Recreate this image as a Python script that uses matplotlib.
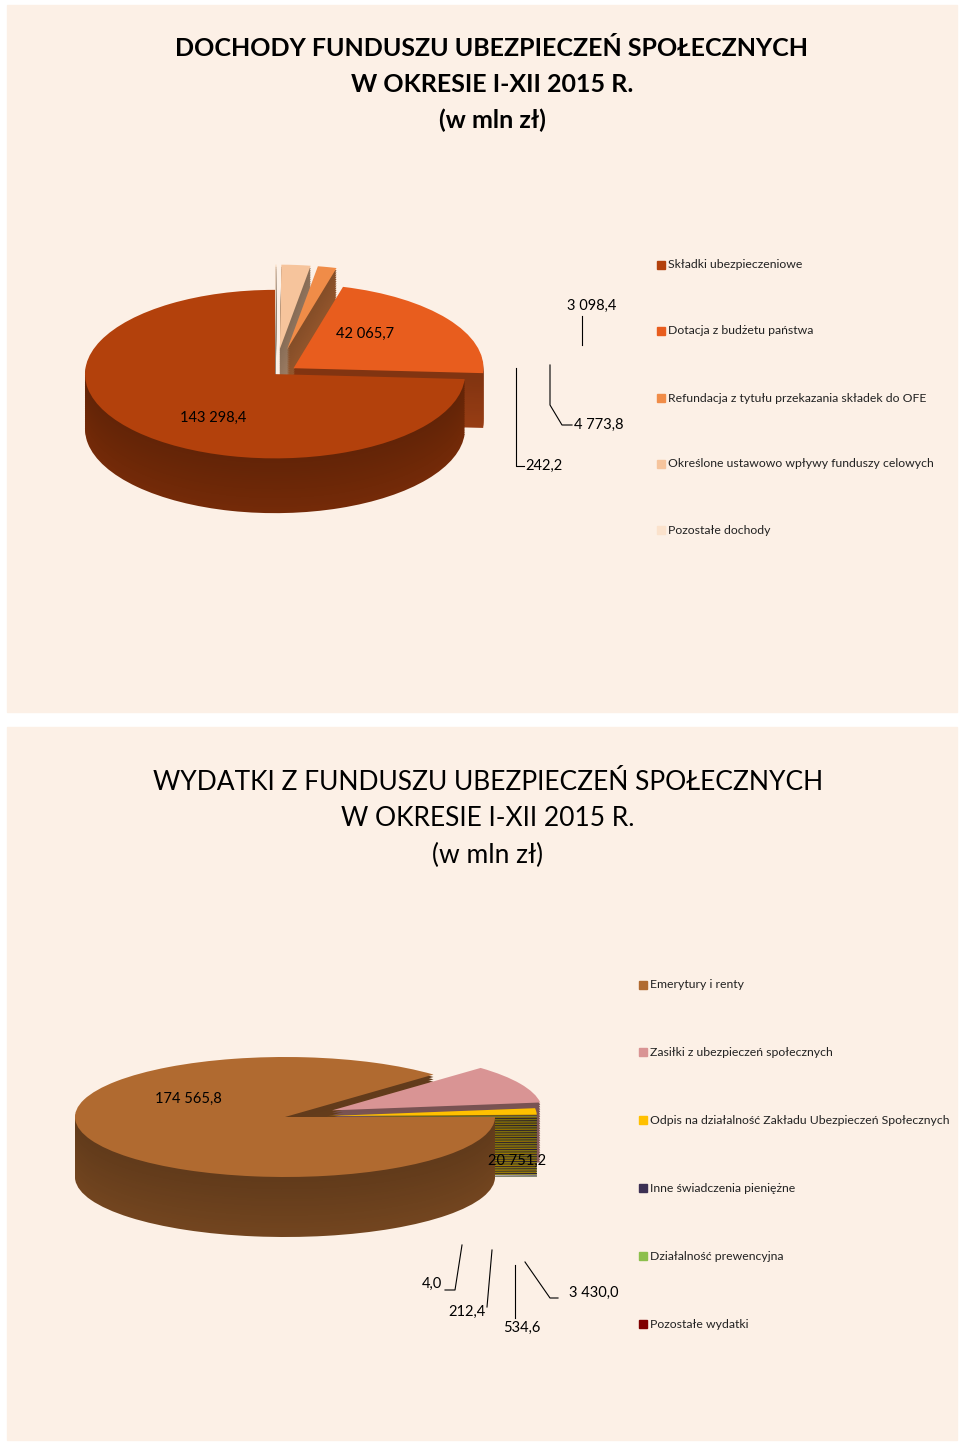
import numpy as np
import matplotlib
matplotlib.use("Agg")
import matplotlib.pyplot as plt
from matplotlib.colors import to_rgb
from matplotlib.patches import Rectangle
from matplotlib.lines import Line2D

plt.rcParams["font.family"] = "Lato"

# dochody
inc_labels = ["Składki ubezpieczeniowe", "Dotacja z budżetu państwa",
              "Refundacja z tytułu przekazania składek do OFE",
              "Określone ustawowo wpływy funduszy celowych", "Pozostałe dochody"]
inc_values = [143298.4, 42065.7, 3098.4, 4773.8, 242.2]
inc_text = ["143 298,4", "42 065,7", "3 098,4", "4 773,8", "242,2"]
inc_colors = ["#b3410c", "#e85d1e", "#f08c48", "#f6c49c", "#fbe2cc"]

# wydatki
exp_labels = ["Emerytury i renty", "Zasiłki z ubezpieczeń społecznych",
              "Odpis na działalność Zakładu Ubezpieczeń Społecznych",
              "Inne świadczenia pieniężne", "Działalność prewencyjna", "Pozostałe wydatki"]
exp_values = [174565.8, 20751.2, 3430.0, 534.6, 212.4, 4.0]
exp_text = ["174 565,8", "20 751,2", "3 430,0", "534,6", "212,4", "4,0"]
exp_colors = ["#b06a30", "#d99494", "#ffc000", "#3c3054", "#8cbf4c", "#7f0000"]

W, H = 960, 1443
fig = plt.figure(figsize=(W / 100, H / 100), dpi=100)
fig.patch.set_facecolor("white")
bg = "#fcf0e6"


def px(x, y):
    return x / W, 1 - y / H


def panel(y0, y1):
    fig.patches.append(Rectangle(px(7, y1), 950 / W, (y1 - y0) / H,
                                 transform=fig.transFigure, color=bg, zorder=-5))


def dark(c, f):
    r, g, b = to_rgb(c)
    return (r * f, g * f, b * f)


def pie3d(rect, values, colors, explode, start, counter, depth, xl, yl):
    ax = fig.add_axes(rect, zorder=3)
    ax.patch.set_alpha(0)
    n = 25
    for k in range(n, 0, -1):
        ax.pie(values, colors=[dark(c, 0.55 + 0.1 * k / n) for c in colors],
               explode=explode, startangle=start, counterclock=counter,
               center=(0, -depth * k / n), wedgeprops=dict(linewidth=0))
    ax.pie(values, colors=colors, explode=explode, startangle=start,
           counterclock=counter, wedgeprops=dict(linewidth=0))
    ax.set_aspect("auto")
    ax.set_xlim(*xl)
    ax.set_ylim(*yl)
    ax.axis("off")
    return ax


def legend(labels, colors, x, ys):
    for lab, c, y in zip(labels, colors, ys):
        fig.patches.append(Rectangle(px(x, y + 4), 8 / W, 8 / H,
                                     transform=fig.transFigure, color=c, zorder=5))
        fig.text(*px(x + 11, y), lab, fontsize=8.8, va="center", color="#222")


def leader(pts):
    xs = [p[0] / W for p in pts]
    ys = [1 - p[1] / H for p in pts]
    fig.lines.append(Line2D(xs, ys, transform=fig.transFigure, color="black",
                            lw=0.8, zorder=6))


# ---- top panel ----
panel(5, 712)
for i, t in enumerate(["DOCHODY FUNDUSZU UBEZPIECZEŃ SPOŁECZNYCH",
                       "W OKRESIE I-XII 2015 R.", "(w mln zł)"]):
    fig.text(*px(492, 48 + 36 * i), t, fontsize=18, fontweight="bold",
             ha="center", va="center")
pie3d([28 / W, 1 - 530 / H, 494 / W, 257 / H], inc_values, inc_colors,
      [0.0, 0.12, 0.3, 0.3, 0.3], 90, True, 0.65, (-1.3, 1.3), (-1.85, 1.2))
legend(inc_labels, inc_colors, 657, [265, 331, 398, 464, 530])
fig.text(*px(213, 418), inc_text[0], fontsize=10.5, ha="center", va="center", zorder=7)
fig.text(*px(365, 334), inc_text[1], fontsize=10.5, ha="center", va="center", zorder=7)
fig.text(*px(592, 306), inc_text[2], fontsize=10.5, ha="center", va="center")
fig.text(*px(599, 425), inc_text[3], fontsize=10.5, ha="center", va="center")
fig.text(*px(544, 466), inc_text[4], fontsize=10.5, ha="center", va="center")
leader([(582, 316), (582, 345)])
leader([(572, 425), (562, 425), (550, 405), (550, 365)])
leader([(524, 466), (516, 466), (516, 368)])

# ---- bottom panel ----
panel(727, 1440)
for i, t in enumerate(["WYDATKI Z FUNDUSZU UBEZPIECZEŃ SPOŁECZNYCH",
                       "W OKRESIE I-XII 2015 R.", "(w mln zł)"]):
    fig.text(*px(488, 783 + 36 * i), t, fontsize=19, ha="center", va="center")
pie3d([12 / W, 1 - 1249 / H, 546 / W, 204 / H], exp_values, exp_colors,
      [0.0, 0.25, 0.2, 0.2, 0.2, 0.2], 0, False, 1.0, (-1.3, 1.3), (-2.2, 1.2))
legend(exp_labels, exp_colors, 639, [985, 1052, 1120, 1188, 1256, 1324])
fig.text(*px(188, 1099), exp_text[0], fontsize=10.5, ha="center", va="center", zorder=7)
fig.text(*px(517, 1161), exp_text[1], fontsize=10.5, ha="center", va="center", zorder=7)
fig.text(*px(594, 1293), exp_text[2], fontsize=10.5, ha="center", va="center")
fig.text(*px(522, 1328), exp_text[3], fontsize=10.5, ha="center", va="center")
fig.text(*px(467, 1312), exp_text[4], fontsize=10.5, ha="center", va="center")
fig.text(*px(432, 1284), exp_text[5], fontsize=10.5, ha="center", va="center")
leader([(558, 1298), (550, 1298), (525, 1262)])
leader([(515, 1318), (515, 1265)])
leader([(487, 1307), (492, 1250)])
leader([(445, 1290), (455, 1290), (462, 1245)])

fig.savefig("out.png", dpi=100, facecolor="white")
